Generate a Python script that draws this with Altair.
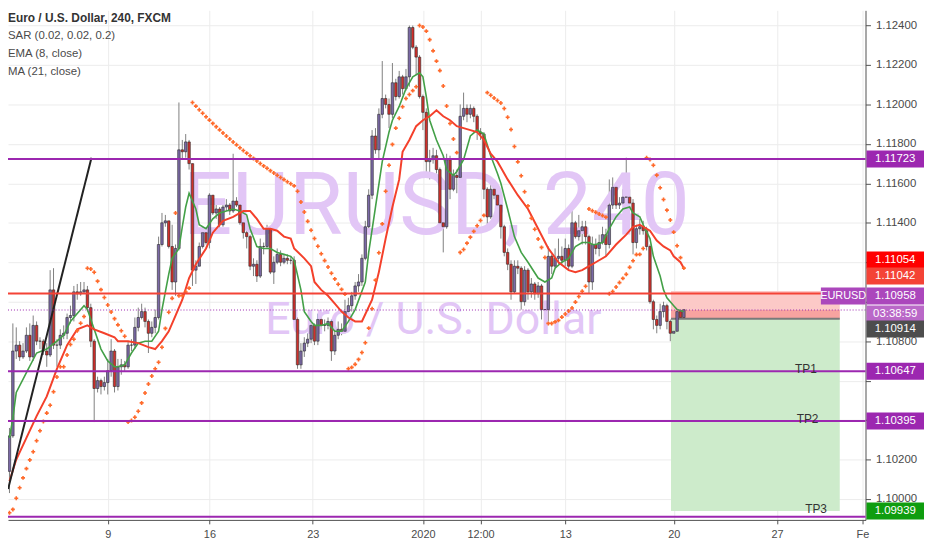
import altair as alt
import pandas as pd

# ---------------- data ----------------
closes = [1.1032,1.1075,1.1078,1.1072,1.1075,1.1083,1.1072,1.1088,1.1080,1.1080,
          1.1075,1.1073,1.1106,1.1078,1.1078,1.1083,1.1084,1.1092,1.1093,1.1105,
          1.1104,1.1105,1.1106,1.1097,1.1080,1.1056,1.1060,1.1057,1.1059,1.1065,
          1.1075,1.1057,1.1067,1.1068,1.1067,1.1078,1.1078,1.1087,1.1092,1.1095,
          1.1090,1.1084,1.1087,1.1092,1.1129,1.1140,1.1141,1.1128,1.1110,1.1127,
          1.1177,1.1176,1.1181,1.1170,1.1116,1.1118,1.1128,1.1135,1.1130,1.1154,
          1.1145,1.1147,1.1139,1.1148,1.1149,1.1146,1.1151,1.1149,1.1140,1.1135,
          1.1133,1.1118,1.1119,1.1113,1.1128,1.1128,1.1137,1.1115,1.1120,1.1124,
          1.1120,1.1122,1.1121,1.1121,1.1091,1.1068,1.1075,1.1079,1.1081,1.1088,
          1.1080,1.1091,1.1088,1.1088,1.1090,1.1075,1.1083,1.1086,1.1085,1.1095,
          1.1098,1.1103,1.1108,1.1110,1.1122,1.1138,1.1154,1.1184,1.1177,1.1195,
          1.1203,1.1200,1.1195,1.1211,1.1204,1.1214,1.1208,1.1214,1.1239,1.1229,
          1.1224,1.1204,1.1196,1.1171,1.1172,1.1174,1.1167,1.1140,1.1138,1.1172,
          1.1157,1.1164,1.1163,1.1194,1.1198,1.1195,1.1198,1.1194,1.1186,1.1185,
          1.1157,1.1143,1.1157,1.1154,1.1149,1.1138,1.1125,1.1119,1.1105,1.1118,
          1.1117,1.1100,1.1116,1.1105,1.1109,1.1104,1.1108,1.1096,1.1096,1.1123,
          1.1118,1.1122,1.1123,1.1121,1.1127,1.1118,1.1140,1.1133,1.1136,1.1138,
          1.1133,1.1110,1.1129,1.1127,1.1130,1.1134,1.1129,1.1149,1.1158,1.1149,
          1.1150,1.1153,1.1153,1.1150,1.1130,1.1137,1.1138,1.1136,1.1128,1.1100,
          1.1091,1.1088,1.1095,1.1098,1.1090,1.1084,1.1085,1.1095,1.1092,1.1096]
highs = [1.1036,1.1089,1.1087,1.1080,1.1079,1.1087,1.1089,1.1093,1.1090,1.1082,
         1.1081,1.1079,1.1116,1.1117,1.1081,1.1086,1.1088,1.1094,1.1098,1.1108,
         1.1109,1.1110,1.1110,1.1108,1.1099,1.1081,1.1062,1.1061,1.1062,1.1071,
         1.1081,1.1076,1.1071,1.1071,1.1070,1.1080,1.1081,1.1092,1.1097,1.1099,
         1.1097,1.1091,1.1090,1.1096,1.1133,1.1145,1.1144,1.1141,1.1139,1.1129,
         1.1201,1.1182,1.1185,1.1182,1.1170,1.1121,1.1130,1.1138,1.1137,1.1155,
         1.1154,1.1149,1.1148,1.1152,1.1152,1.1150,1.1175,1.1153,1.1150,1.1142,
         1.1137,1.1134,1.1122,1.1121,1.1132,1.1130,1.1139,1.1138,1.1123,1.1127,
         1.1126,1.1124,1.1124,1.1123,1.1123,1.1092,1.1079,1.1082,1.1084,1.1090,
         1.1089,1.1094,1.1092,1.1091,1.1092,1.1091,1.1085,1.1090,1.1089,1.1101,
         1.1102,1.1105,1.1110,1.1114,1.1124,1.1141,1.1157,1.1187,1.1188,1.1198,
         1.1222,1.1205,1.1203,1.1221,1.1213,1.1217,1.1215,1.1218,1.1240,1.1240,
         1.1230,1.1225,1.1205,1.1198,1.1177,1.1178,1.1177,1.1168,1.1143,1.1175,
         1.1174,1.1167,1.1167,1.1200,1.1206,1.1200,1.1200,1.1199,1.1195,1.1188,
         1.1186,1.1158,1.1160,1.1158,1.1157,1.1150,1.1139,1.1127,1.1121,1.1121,
         1.1121,1.1118,1.1118,1.1117,1.1112,1.1110,1.1110,1.1109,1.1099,1.1128,
         1.1124,1.1127,1.1132,1.1128,1.1132,1.1129,1.1147,1.1141,1.1144,1.1141,
         1.1141,1.1134,1.1133,1.1132,1.1134,1.1138,1.1137,1.1162,1.1163,1.1159,
         1.1153,1.1157,1.1173,1.1157,1.1152,1.1139,1.1142,1.1141,1.1138,1.1129,
         1.1101,1.1093,1.1099,1.1100,1.1099,1.1091,1.1091,1.1098,1.1096,1.1097]
lows = [1.1003,1.1031,1.1071,1.1070,1.1071,1.1074,1.1070,1.1070,1.1078,1.1076,
        1.1073,1.1067,1.1072,1.1076,1.1067,1.1076,1.1081,1.1081,1.1089,1.1090,
        1.1101,1.1103,1.1104,1.1095,1.1077,1.1039,1.1054,1.1053,1.1055,1.1053,
        1.1062,1.1054,1.1055,1.1063,1.1065,1.1066,1.1075,1.1076,1.1085,1.1091,
        1.1087,1.1074,1.1082,1.1084,1.1091,1.1128,1.1138,1.1127,1.1106,1.1103,
        1.1126,1.1172,1.1173,1.1167,1.1108,1.1109,1.1118,1.1127,1.1129,1.1127,
        1.1144,1.1142,1.1136,1.1138,1.1146,1.1144,1.1145,1.1148,1.1139,1.1132,
        1.1127,1.1116,1.1113,1.1110,1.1112,1.1124,1.1127,1.1114,1.1109,1.1119,
        1.1118,1.1119,1.1119,1.1119,1.1090,1.1066,1.1066,1.1072,1.1077,1.1079,
        1.1078,1.1078,1.1086,1.1085,1.1086,1.1070,1.1073,1.1081,1.1083,1.1084,
        1.1092,1.1095,1.1101,1.1105,1.1108,1.1121,1.1137,1.1152,1.1175,1.1172,
        1.1193,1.1198,1.1188,1.1193,1.1202,1.1203,1.1205,1.1207,1.1209,1.1228,
        1.1215,1.1203,1.1187,1.1165,1.1162,1.1170,1.1165,1.1139,1.1125,1.1137,
        1.1152,1.1156,1.1155,1.1162,1.1192,1.1191,1.1193,1.1191,1.1182,1.1182,
        1.1152,1.1138,1.1142,1.1152,1.1147,1.1132,1.1123,1.1116,1.1101,1.1104,
        1.1114,1.1096,1.1098,1.1101,1.1102,1.1101,1.1102,1.1091,1.1089,1.1090,
        1.1114,1.1117,1.1119,1.1119,1.1118,1.1116,1.1117,1.1132,1.1131,1.1129,
        1.1129,1.1104,1.1106,1.1124,1.1123,1.1129,1.1123,1.1127,1.1147,1.1147,
        1.1147,1.1149,1.1149,1.1147,1.1124,1.1127,1.1134,1.1134,1.1126,1.1099,
        1.1086,1.1084,1.1086,1.1092,1.1086,1.1080,1.1078,1.1081,1.1090,1.1090]
first_open = 1.1014
opens = [first_open] + closes[:-1]

ema_bar = [0,1,2,5,8,11,14,16,18,20,22,23,25,27,29,31,32,34,36,38,40,42,44,45,47,48,50,51,52,53,
           55,56,58,60,62,64,66,68,70,71,73,75,77,79,81,83,84,86,87,89,90,92,94,96,98,100,102,105,106,108,
           110,112,113,115,117,119,121,122,123,124,126,128,129,131,132,134,136,138,140,142,144,145,147,149,151,153,156,158,160,161,
           163,165,167,169,171,172,173,175,177,179,181,183,184,186,187,189,190,192,193,194,196,197,199]
ema_val = [1.1031,1.1041,1.1054,1.1064,1.1074,1.1076,1.1080,1.1083,1.1090,1.1094,
           1.1098,1.1096,1.1086,1.1076,1.1070,1.1067,1.1067,1.1068,1.1074,1.1079,
           1.1080,1.1080,1.1085,1.1096,1.1114,1.1122,1.1127,1.1138,1.1148,1.1155,
           1.1147,1.1139,1.1137,1.1142,1.1145,1.1146,1.1147,1.1146,1.1144,1.1137,
           1.1128,1.1127,1.1127,1.1125,1.1124,1.1123,1.1121,1.1106,1.1095,1.1090,
           1.1088,1.1088,1.1089,1.1085,1.1085,1.1090,1.1096,1.1110,1.1125,1.1148,
           1.1171,1.1186,1.1192,1.1199,1.1208,1.1214,1.1216,1.1214,1.1204,1.1192,
           1.1182,1.1174,1.1167,1.1164,1.1166,1.1172,1.1184,1.1187,1.1185,1.1174,
           1.1165,1.1160,1.1147,1.1133,1.1125,1.1120,1.1112,1.1110,1.1112,1.1117,
           1.1120,1.1122,1.1128,1.1130,1.1130,1.1129,1.1129,1.1130,1.1137,1.1143,
           1.1147,1.1148,1.1145,1.1143,1.1139,1.1132,1.1123,1.1113,1.1106,1.1102,
           1.1098,1.1096,1.1095]
ma_bar = [0,2,5,8,11,14,17,20,23,25,28,31,32,35,38,41,43,45,47,49,51,53,55,58,60,63,66,69,71,73,
          75,77,79,81,83,84,87,89,90,92,94,96,98,100,102,104,107,109,111,113,115,116,118,120,122,124,126,128,130,132,
          134,136,138,140,142,144,145,147,150,153,156,159,162,165,167,169,171,173,176,179,182,184,186,187,189,191,193,195,196,198,199]
ma_val = [1.1009,1.1020,1.1031,1.1042,1.1052,1.1066,1.1078,1.1086,1.1088,1.1086,
          1.1084,1.1082,1.1080,1.1080,1.1079,1.1077,1.1076,1.1080,1.1085,1.1093,
          1.1101,1.1112,1.1119,1.1127,1.1135,1.1141,1.1143,1.1146,1.1146,1.1142,
          1.1137,1.1137,1.1136,1.1133,1.1132,1.1127,1.1122,1.1118,1.1110,1.1106,
          1.1103,1.1099,1.1095,1.1092,1.1090,1.1090,1.1101,1.1115,1.1132,1.1148,
          1.1162,1.1176,1.1182,1.1189,1.1192,1.1194,1.1197,1.1194,1.1192,1.1189,
          1.1188,1.1187,1.1186,1.1182,1.1175,1.1171,1.1168,1.1162,1.1154,1.1147,
          1.1137,1.1127,1.1120,1.1116,1.1115,1.1116,1.1118,1.1120,1.1123,1.1129,
          1.1134,1.1138,1.1139,1.1138,1.1136,1.1131,1.1128,1.1126,1.1123,1.1120,
          1.1117]

# Parabolic SAR (0.02, 0.02, 0.2); first dot
sar_first = 1.0993
sar_first_ep = 1.1036
sar_first_af = 0.04

purple_levels = [1.11723, 1.10647, 1.10395, 1.0991]
red_level = 1.11042
current_price = 1.10958
stop_price = 1.11054
entry_price = 1.10914
target_price = 1.09939
position_bars = [195.2, 245.0]

trend_bar = [-0.4, 24.2]
trend_val = [1.1005, 1.1173]

tp_bar = [235.0, 235.5, 238.0]
tp_val = [1.10647, 1.10395, 1.09939]
tp_text = ["TP1", "TP2", "TP3"]

price_ticks = [1.100, 1.102, 1.104, 1.106, 1.108, 1.110, 1.112, 1.114, 1.116, 1.118, 1.120, 1.122, 1.124]
covered_price_labels = [1.104, 1.106, 1.110, 1.112]   # hidden under the coloured price tags
time_tick_bars = [29, 59, 89.5, 122, 139, 164, 196, 226.5, 251.7]
time_tick_labels = ["9", "16", "23", "2020", "12:00", "13", "20", "27", "Fe"]

tag_text = ["1.11723", "1.11054", "1.11042", "1.10958", "03:38:59", "1.10914", "1.10647", "1.10395", "1.09939"]
tag_pos = [1.11723, 1.11211, 1.11130, 1.11029, 1.10938, 1.10862, 1.10647, 1.10395, 1.09939]
tag_color = ["#9c27b0", "#ff0000", "#f44336", "#ab47bc", "#ba68c8", "#4d4d4d", "#9c27b0", "#9c27b0", "#0f9d0f"]

legend_lines = ["Euro / U.S. Dollar, 240, FXCM", "SAR (0.02, 0.02, 0.2)", "EMA (8, close)", "MA (21, close)"]


def parabolic_sar(high, low, sar0, ep0, af0, step=0.02, af_max=0.2):
    out = [sar0]
    rising = True
    ep, af = ep0, af0
    for i in range(1, len(high)):
        prev = out[-1]
        s = prev + af * (ep - prev)
        if rising:
            s = min(s, low[i - 1], low[max(i - 2, 0)])
            if low[i] < s:
                rising = False
                s, ep, af = ep, low[i], step
            elif high[i] > ep:
                ep, af = high[i], min(af + step, af_max)
        else:
            s = max(s, high[i - 1], high[max(i - 2, 0)])
            if high[i] > s:
                rising = True
                s, ep, af = ep, high[i], step
            elif low[i] < ep:
                ep, af = low[i], min(af + step, af_max)
        out.append(s)
    return out


n = len(closes)
df = pd.DataFrame({"bar": list(range(n)), "open": opens, "high": highs, "low": lows, "close": closes})
df["dir"] = ["up" if c >= o else "down" for o, c in zip(opens, closes)]
df["sar"] = parabolic_sar(highs, lows, sar_first, sar_first_ep, sar_first_af)

ema_df = pd.DataFrame({"bar": ema_bar, "v": ema_val})
ma_df = pd.DataFrame({"bar": ma_bar, "v": ma_val})

FONT = "Liberation Sans"
X = alt.Scale(domain=[-0.435, 252.6], nice=False, zero=False, padding=0)
Y = alt.Scale(domain=[1.09894, 1.12477], nice=False, zero=False, padding=0)


def xq(field):
    return alt.X(field, type="quantitative", scale=X, title=None)


def yq(field):
    return alt.Y(field, type="quantitative", scale=Y, title=None)


x_expr = "".join(f"datum.value == {v} ? '{t}' : " for v, t in zip(time_tick_bars, time_tick_labels)) + "''"
y_expr = ("(" + " || ".join(f"abs(datum.value - {v}) < 0.00001" for v in covered_price_labels)
          + ") ? '' : format(datum.value, '.5f')")

x_axis = alt.Axis(values=time_tick_bars, labelExpr=x_expr, title=None, grid=True, gridColor="#ececec",
                  domainColor="#505050", tickColor="#505050", tickSize=4, labelPadding=5,
                  labelFontSize=11, labelColor="#4a4a4a", labelFont=FONT, labelFlush=False,
                  labelOverlap=False, orient="bottom")
y_axis = alt.Axis(orient="right", values=price_ticks, labelExpr=y_expr, title=None, grid=True,
                  gridColor="#ececec", domainColor="#505050", tickColor="#505050", tickSize=5,
                  labelPadding=5, labelFontSize=11.5, labelColor="#4a4a4a", labelFont=FONT,
                  labelFlush=False, labelOverlap=False)

# wicks: this layer carries the axes, the others leave them untouched
wicks = alt.Chart(df).mark_rule(color="#808080", strokeWidth=1).encode(
    x=alt.X("bar:Q", scale=X, axis=x_axis, title=None),
    y=alt.Y("low:Q", scale=Y, axis=y_axis, title=None),
    y2="high:Q",
)

# watermark
wm1 = alt.Chart(pd.DataFrame({"t": ["EURUSD, 240"]})).mark_text(
    font="Roboto", fontSize=88, color="#e2c6f6", align="center", baseline="middle"
).encode(x=alt.value(432), y=alt.value(200), text="t:N")
wm2 = alt.Chart(pd.DataFrame({"t": ["Euro / U.S. Dollar"]})).mark_text(
    font="Roboto", fontSize=45, color="#e2c6f6", align="center", baseline="middle"
).encode(x=alt.value(429), y=alt.value(312), text="t:N")

# position tool
pos_df = pd.DataFrame({
    "x1": [position_bars[0]] * 3, "x2": [position_bars[1]] * 3,
    "y1": [stop_price, current_price, entry_price],
    "y2": [entry_price, entry_price, target_price],
    "col": ["#fcc9c7", "#f8a3a0", "#cdebcb"],
})
pos = alt.Chart(pos_df).mark_rect().encode(
    x=xq("x1"), x2="x2:Q", y=yq("y1"), y2="y2:Q",
    color=alt.Color("col:N", scale=None),
)
entry_line = alt.Chart(pd.DataFrame({"x1": [position_bars[0]], "x2": [position_bars[1]], "y": [entry_price]})).mark_rule(
    color="#7a7a7a", strokeWidth=2).encode(x=xq("x1"), x2="x2:Q", y=yq("y"))

bodies = alt.Chart(df).mark_bar(size=2.5, stroke="#2a2a2a", strokeWidth=0.6).encode(
    x=xq("bar"), y=yq("open"), y2="close:Q",
    color=alt.Color("dir:N", scale=alt.Scale(domain=["up", "down"], range=["#7b69a6", "#d0302b"]), legend=None),
)

ema = alt.Chart(ema_df).mark_line(color="#43a047", strokeWidth=1.6).encode(x=xq("bar"), y=yq("v"))
ma = alt.Chart(ma_df).mark_line(color="#f4402b", strokeWidth=2).encode(x=xq("bar"), y=yq("v"))
sar = alt.Chart(df).mark_point(shape="cross", filled=True, size=16, color="#ff6a2b", opacity=1).encode(
    x=xq("bar"), y=yq("sar"))

trend = alt.Chart(pd.DataFrame({"bar": trend_bar, "v": trend_val})).mark_line(
    color="#222222", strokeWidth=2).encode(x=xq("bar"), y=yq("v"))

plines = alt.Chart(pd.DataFrame({"y": purple_levels})).mark_rule(color="#9c27b0", strokeWidth=2).encode(y=yq("y"))
rline = alt.Chart(pd.DataFrame({"y": [red_level]})).mark_rule(color="#f44336", strokeWidth=2).encode(y=yq("y"))
cline = alt.Chart(pd.DataFrame({"y": [current_price]})).mark_rule(
    color="#9c27b0", strokeWidth=1, strokeDash=[1, 2]).encode(y=yq("y"))

tps = alt.Chart(pd.DataFrame({"bar": tp_bar, "v": tp_val, "t": tp_text})).mark_text(
    font=FONT, fontSize=12, color="#333333", baseline="middle", dy=-2).encode(
    x=xq("bar"), y=yq("v"), text="t:N")

half = 0.00043
tag_df = pd.DataFrame({"t": tag_text, "p": tag_pos, "col": tag_color,
                       "lo": [p - half for p in tag_pos], "hi": [p + half for p in tag_pos]})
tag_box = alt.Chart(tag_df).mark_rect().encode(
    x=alt.value(866), x2=alt.value(924), y=yq("hi"), y2="lo:Q",
    color=alt.Color("col:N", scale=None))
tag_txt = alt.Chart(tag_df).mark_text(font=FONT, fontSize=11.5, color="white", align="center", baseline="middle").encode(
    x=alt.value(895), y=yq("p"), text="t:N")

sym_df = pd.DataFrame({"t": ["EURUSD"], "p": [tag_pos[3]], "lo": [tag_pos[3] - half], "hi": [tag_pos[3] + half]})
sym_box = alt.Chart(sym_df).mark_rect(color="#ab47bc").encode(
    x=alt.value(820), x2=alt.value(865), y=yq("hi"), y2="lo:Q")
sym_txt = alt.Chart(sym_df).mark_text(font=FONT, fontSize=11, color="white", align="center", baseline="middle").encode(
    x=alt.value(842.5), y=yq("p"), text="t:N")

legend_layers = []
for k, line in enumerate(legend_lines):
    legend_layers.append(
        alt.Chart(pd.DataFrame({"t": [line]})).mark_text(
            font=FONT, fontSize=12 if k == 0 else 11.5, fontWeight="bold" if k == 0 else "normal",
            color="#333333" if k == 0 else "#4a4a4a", align="left", baseline="middle"
        ).encode(x=alt.value(0), y=alt.value(8 + 18 * k), text="t:N")
    )

chart = alt.layer(
    wicks, wm1, wm2, pos, entry_line, bodies, ema, ma, sar, trend,
    plines, rline, cline, tps, tag_box, tag_txt, sym_box, sym_txt, *legend_layers
).properties(
    width=865, height=514,
    padding={"left": 0, "top": 0, "right": 59, "bottom": 28},
    autosize=alt.AutoSizeParams(type="none"),
    background="white",
).configure_view(stroke=None)

chart.save("out.html", embed_options={"renderer": "svg", "actions": False})
